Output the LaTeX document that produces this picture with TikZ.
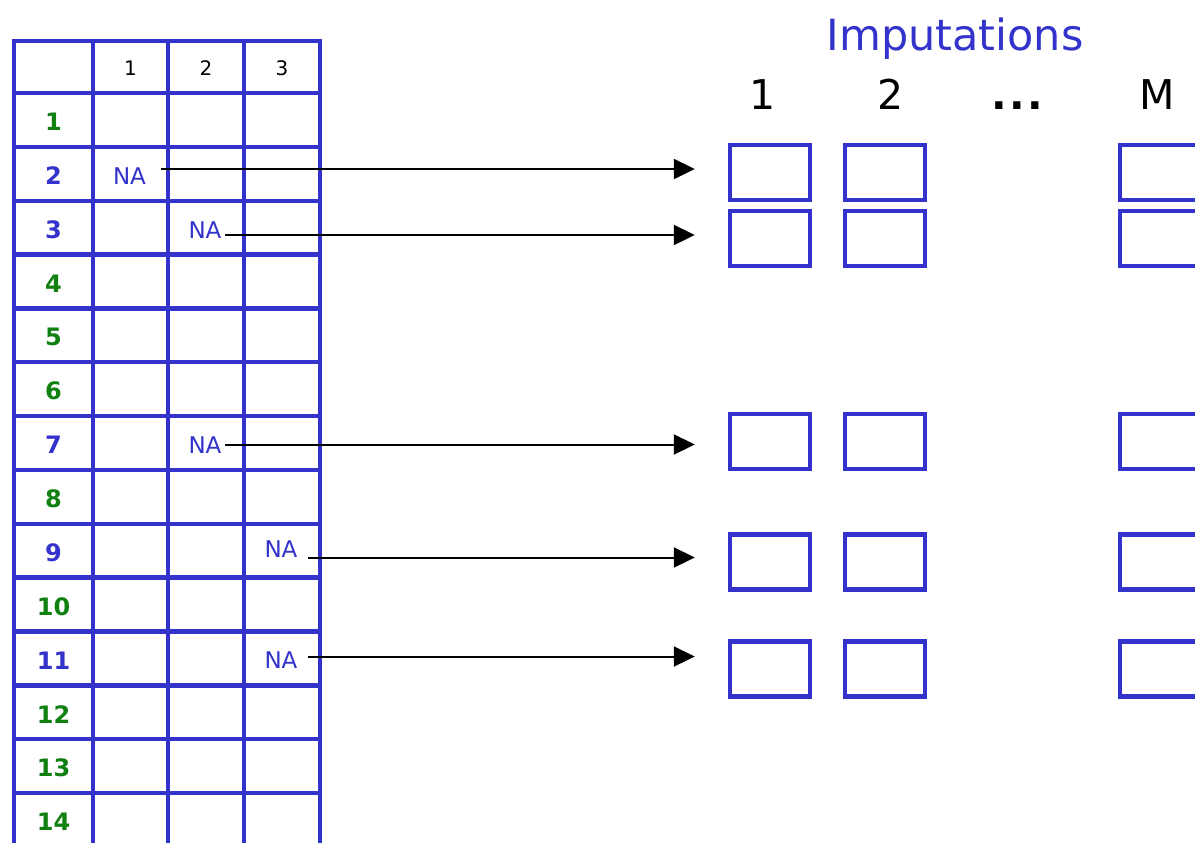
\documentclass[tikz,border=0pt]{standalone}
\usepackage{fontspec}
\setmainfont{DejaVu Sans}
\usetikzlibrary{arrows.meta}
\definecolor{tblue}{RGB}{51,51,204}
\definecolor{tgreen}{RGB}{16,128,16}
\begin{document}
\begin{tikzpicture}[x=0.5pt,y=-0.5pt,
  grid/.style={draw=tblue,line width=2.2pt,line cap=rect},
  hdr/.style={font=\fontsize{10}{12}\selectfont,text=black,inner sep=0pt},
  rowg/.style={font=\fontsize{12}{14}\selectfont\bfseries,text=tgreen,inner sep=0pt},
  rowb/.style={rowg,text=tblue},
  na/.style={font=\fontsize{11.5}{13}\selectfont,text=tblue,inner sep=0pt},
  title/.style={font=\fontsize{21.5}{24}\selectfont,text=tblue,inner sep=0pt,anchor=base},
  imp/.style={font=\fontsize{20.5}{24}\selectfont,text=black,inner sep=0pt,anchor=base},
  ibox/.style={draw=tblue,line width=2.2pt,minimum width=40pt,minimum height=27.5pt,inner sep=0pt},
  arr/.style={line width=1pt,-{Triangle[length=10.5pt,width=10pt]},shorten >=16.5pt},
]
\useasboundingbox (0,0) rectangle (1195,842);
\clip (0,0) rectangle (1195,842);

% table grid
\foreach \x in {14,93,168,244,320} \draw[grid] (\x,41) -- (\x,850);
\foreach \i in {0,...,13} \draw[grid] (14,93+53.85*\i) -- (320,93+53.85*\i);
\draw[grid] (14,41) -- (320,41);

% header
\node[hdr] (h1) at (130.5,68) {1};
\node[hdr] (h2) at (206,68) {2};
\node[hdr] (h3) at (282,68) {3};

% row labels
\foreach \r/\s in {1/rowg,2/rowb,3/rowb,4/rowg,5/rowg,6/rowg,7/rowb,8/rowg,9/rowb,10/rowg,11/rowb,12/rowg,13/rowg,14/rowg}
  \node[\s] (r\r) at (53.5,122+53.85*\r-53.85) {\r};

% NA cells
\node[na] (na2) at (129.5,176) {NA};
\node[na] (na3) at (205,230) {NA};
\node[na] (na7) at (205,445) {NA};
\node[na] (na9) at (281,549) {NA};
\node[na] (na11) at (281,660) {NA};

% imputation headings
\node[title] (imps) at (955,50) {Imputations};
\node[imp] (m1) at (763,109) {1};
\node[imp] (m2) at (891,109) {2};
\node[imp] (md) at (1017,109) {\bfseries .\kern1.2pt.\kern1.2pt.};
\node[imp] (mM) at (1157,109) {M};

% imputation boxes
\foreach \k/\y in {a/172.5,b/238.5,c/441.5,d/562,e/669}{
  \node[ibox] (b1\k) at (770,\y) {};
  \node[ibox] (b2\k) at (885,\y) {};
  \node[ibox] (bM\k) at (1160,\y) {};
}

% arrow start points
\coordinate (s2) at (161,169);
\coordinate (s3) at (225,235);
\coordinate (s7) at (225,444.5);
\coordinate (s9) at (308,557.5);
\coordinate (s11) at (308,656.5);

\draw[arr] (s2) -- (s2 -| b1a.west);
\draw[arr] (s3) -- (s3 -| b1b.west);
\draw[arr] (s7) -- (s7 -| b1c.west);
\draw[arr] (s9) -- (s9 -| b1d.west);
\draw[arr] (s11) -- (s11 -| b1e.west);
\end{tikzpicture}
\end{document}
